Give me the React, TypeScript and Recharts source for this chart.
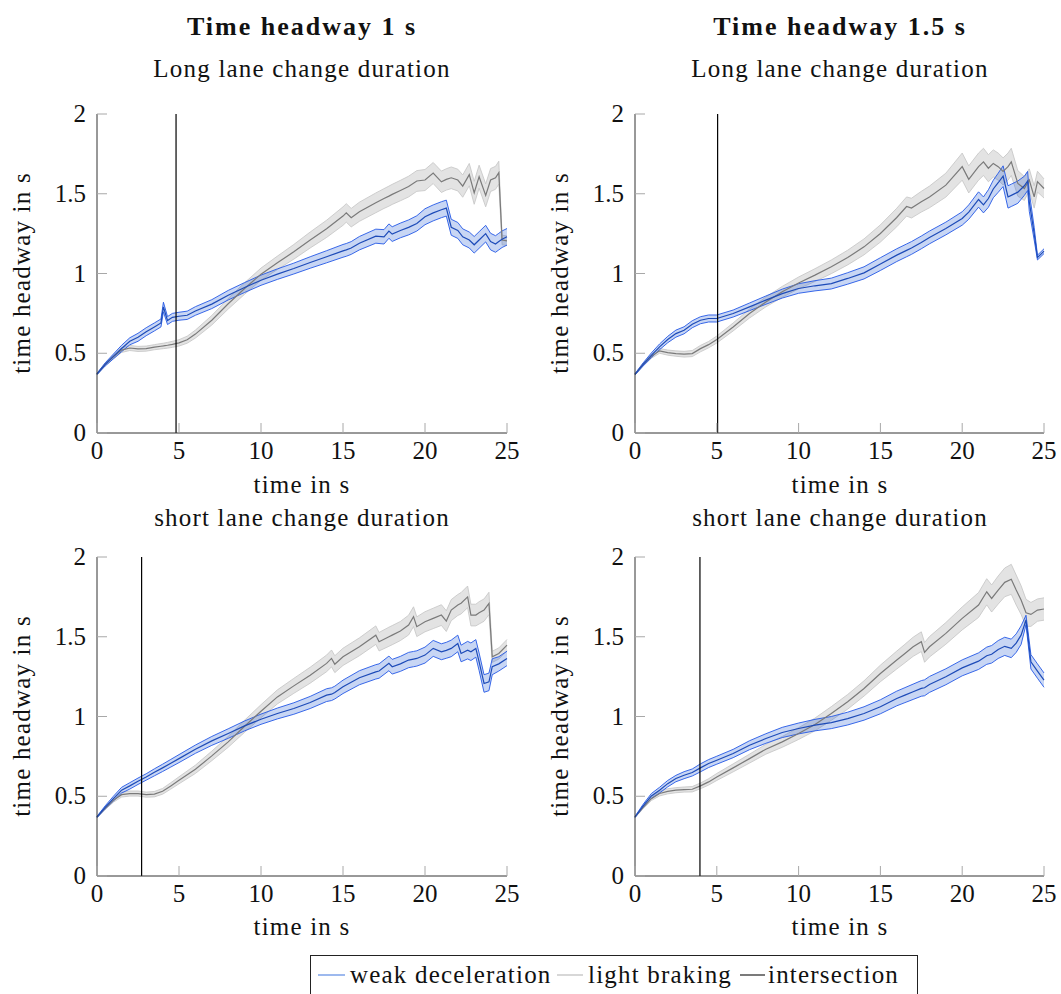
import React from 'react';
import { ComposedChart, Area, Line, XAxis, YAxis, ReferenceLine } from 'recharts';

// panel 1: time headway 1 s, long lane change
const time1 = [0, 0.5, 1, 1.5, 2, 2.5, 3, 3.5, 3.9, 4.05, 4.3, 4.6, 5, 5.5, 6, 7, 8, 9, 10, 11, 12, 13, 14, 15, 15.2, 15.5, 16, 17, 17.5, 17.8, 18, 18.5, 19, 19.5, 20, 20.5, 21, 21.3, 21.6, 22, 22.3, 22.7, 23, 23.3, 23.7, 24, 24.3, 24.5, 24.7, 25];
const blue1 = [0.37, 0.43, 0.48, 0.53, 0.575, 0.6, 0.635, 0.665, 0.69, 0.79, 0.705, 0.725, 0.732, 0.738, 0.765, 0.808, 0.864, 0.912, 0.958, 0.996, 1.031, 1.069, 1.105, 1.142, 1.148, 1.16, 1.19, 1.234, 1.23, 1.266, 1.247, 1.27, 1.289, 1.314, 1.356, 1.38, 1.4, 1.41, 1.29, 1.27, 1.23, 1.21, 1.18, 1.21, 1.25, 1.2, 1.185, 1.2, 1.215, 1.23];
const blueCi1 = [0.004, 0.01, 0.015, 0.02, 0.022, 0.025, 0.025, 0.025, 0.025, 0.03, 0.025, 0.025, 0.025, 0.026, 0.027, 0.028, 0.03, 0.031, 0.032, 0.033, 0.034, 0.036, 0.038, 0.04, 0.04, 0.04, 0.042, 0.044, 0.045, 0.045, 0.046, 0.046, 0.047, 0.048, 0.05, 0.05, 0.05, 0.05, 0.05, 0.05, 0.05, 0.05, 0.052, 0.052, 0.052, 0.052, 0.052, 0.052, 0.052, 0.052];
const gray1 = [0.37, 0.43, 0.478, 0.52, 0.533, 0.527, 0.529, 0.538, 0.544, 0.546, 0.55, 0.556, 0.565, 0.585, 0.62, 0.707, 0.81, 0.906, 0.996, 1.067, 1.136, 1.21, 1.28, 1.36, 1.38, 1.35, 1.387, 1.443, 1.47, 1.485, 1.496, 1.52, 1.545, 1.58, 1.586, 1.63, 1.575, 1.59, 1.6, 1.586, 1.548, 1.62, 1.506, 1.607, 1.49, 1.586, 1.6, 1.632, 1.21, 1.205];
const grayCi1 = [0.004, 0.008, 0.012, 0.015, 0.016, 0.016, 0.016, 0.016, 0.017, 0.017, 0.018, 0.019, 0.02, 0.022, 0.025, 0.03, 0.033, 0.036, 0.038, 0.042, 0.046, 0.05, 0.054, 0.058, 0.058, 0.058, 0.06, 0.062, 0.062, 0.063, 0.063, 0.064, 0.065, 0.065, 0.066, 0.066, 0.067, 0.067, 0.068, 0.068, 0.07, 0.07, 0.072, 0.072, 0.072, 0.072, 0.072, 0.072, 0.03, 0.03];

// panel 2: time headway 1.5 s, long lane change
const time2 = [0, 0.5, 1, 1.5, 2, 2.5, 3, 3.5, 4, 4.5, 5, 6, 7, 8, 9, 10, 11, 12, 13, 14, 15, 16, 16.6, 16.9, 17.5, 18, 19, 20, 20.4, 21, 21.3, 21.6, 21.9, 22.2, 22.5, 22.8, 23, 23.4, 23.8, 24, 24.1, 24.4, 24.6, 25];
const blue2 = [0.368, 0.43, 0.487, 0.54, 0.586, 0.623, 0.644, 0.682, 0.707, 0.718, 0.718, 0.749, 0.791, 0.833, 0.874, 0.906, 0.923, 0.937, 0.969, 1.004, 1.059, 1.115, 1.145, 1.16, 1.195, 1.226, 1.282, 1.345, 1.385, 1.464, 1.43, 1.47, 1.53, 1.569, 1.61, 1.48, 1.49, 1.51, 1.55, 1.58, 1.45, 1.25, 1.1, 1.14];
const blueCi2 = [0.004, 0.01, 0.015, 0.018, 0.02, 0.022, 0.022, 0.022, 0.022, 0.022, 0.022, 0.022, 0.024, 0.026, 0.028, 0.03, 0.032, 0.034, 0.036, 0.038, 0.04, 0.04, 0.04, 0.04, 0.04, 0.04, 0.04, 0.042, 0.045, 0.048, 0.05, 0.055, 0.055, 0.06, 0.065, 0.07, 0.07, 0.07, 0.06, 0.06, 0.06, 0.04, 0.015, 0.015];
const gray2 = [0.368, 0.43, 0.481, 0.515, 0.504, 0.498, 0.494, 0.498, 0.529, 0.554, 0.586, 0.665, 0.749, 0.822, 0.885, 0.941, 0.99, 1.042, 1.1, 1.167, 1.251, 1.351, 1.42, 1.41, 1.45, 1.48, 1.554, 1.67, 1.59, 1.67, 1.7, 1.66, 1.69, 1.67, 1.64, 1.67, 1.7, 1.565, 1.533, 1.57, 1.586, 1.48, 1.576, 1.533];
const grayCi2 = [0.004, 0.008, 0.012, 0.015, 0.016, 0.017, 0.018, 0.019, 0.02, 0.02, 0.022, 0.025, 0.028, 0.031, 0.034, 0.037, 0.04, 0.043, 0.046, 0.05, 0.054, 0.058, 0.06, 0.062, 0.065, 0.068, 0.075, 0.085, 0.085, 0.085, 0.085, 0.085, 0.085, 0.085, 0.085, 0.085, 0.085, 0.08, 0.075, 0.07, 0.07, 0.07, 0.065, 0.06];

// panel 3: time headway 1 s, short lane change
const time3 = [0, 0.5, 1, 1.5, 2, 2.5, 3, 3.5, 4, 4.5, 5, 6, 7, 8, 9, 10, 11, 12, 13, 14, 14.3, 14.5, 15, 16, 17, 17.2, 17.8, 18, 18.5, 19, 19.3, 19.5, 20, 20.5, 21, 21.3, 21.6, 22, 22.2, 22.6, 22.8, 23.1, 23.3, 23.6, 23.9, 24.1, 24.5, 25];
const blue3 = [0.37, 0.43, 0.485, 0.538, 0.565, 0.594, 0.621, 0.65, 0.678, 0.707, 0.736, 0.795, 0.847, 0.893, 0.941, 0.983, 1.019, 1.05, 1.088, 1.134, 1.14, 1.15, 1.186, 1.243, 1.28, 1.285, 1.333, 1.312, 1.33, 1.354, 1.36, 1.364, 1.385, 1.427, 1.406, 1.415, 1.427, 1.458, 1.395, 1.416, 1.406, 1.427, 1.343, 1.207, 1.217, 1.312, 1.33, 1.364];
const blueCi3 = [0.004, 0.01, 0.015, 0.018, 0.02, 0.02, 0.02, 0.022, 0.023, 0.024, 0.025, 0.026, 0.028, 0.03, 0.031, 0.032, 0.034, 0.036, 0.038, 0.04, 0.04, 0.04, 0.042, 0.044, 0.045, 0.045, 0.046, 0.046, 0.047, 0.048, 0.048, 0.048, 0.05, 0.05, 0.05, 0.05, 0.052, 0.052, 0.052, 0.055, 0.055, 0.055, 0.055, 0.055, 0.055, 0.05, 0.045, 0.045];
const gray3 = [0.37, 0.425, 0.475, 0.51, 0.517, 0.517, 0.51, 0.513, 0.531, 0.565, 0.6, 0.669, 0.753, 0.841, 0.939, 1.033, 1.123, 1.192, 1.259, 1.333, 1.364, 1.328, 1.374, 1.437, 1.51, 1.469, 1.5, 1.51, 1.536, 1.573, 1.626, 1.563, 1.594, 1.615, 1.636, 1.598, 1.667, 1.699, 1.71, 1.75, 1.636, 1.636, 1.65, 1.667, 1.709, 1.374, 1.395, 1.448];
const grayCi3 = [0.004, 0.008, 0.012, 0.015, 0.016, 0.016, 0.016, 0.017, 0.018, 0.02, 0.022, 0.026, 0.03, 0.034, 0.038, 0.041, 0.044, 0.047, 0.05, 0.052, 0.053, 0.053, 0.054, 0.056, 0.058, 0.058, 0.06, 0.06, 0.06, 0.062, 0.062, 0.062, 0.063, 0.064, 0.065, 0.065, 0.066, 0.066, 0.067, 0.068, 0.068, 0.068, 0.07, 0.07, 0.07, 0.035, 0.035, 0.035];

// panel 4: time headway 1.5 s, short lane change
const time4 = [0, 0.5, 1, 1.5, 2, 2.5, 3, 3.5, 4, 4.5, 5, 6, 7, 8, 9, 10, 11, 12, 13, 14, 15, 16, 16.5, 17, 17.5, 17.7, 18, 19, 20, 21, 21.5, 21.8, 22.2, 22.6, 23, 23.3, 23.6, 23.9, 24.2, 24.6, 25];
const blue4 = [0.37, 0.44, 0.502, 0.538, 0.579, 0.611, 0.632, 0.649, 0.678, 0.705, 0.726, 0.768, 0.82, 0.862, 0.9, 0.925, 0.946, 0.962, 0.987, 1.019, 1.061, 1.113, 1.134, 1.155, 1.176, 1.18, 1.201, 1.249, 1.305, 1.347, 1.381, 1.39, 1.42, 1.44, 1.427, 1.46, 1.51, 1.605, 1.343, 1.285, 1.228];
const blueCi4 = [0.004, 0.01, 0.015, 0.018, 0.02, 0.02, 0.022, 0.022, 0.025, 0.025, 0.025, 0.026, 0.028, 0.03, 0.032, 0.034, 0.036, 0.038, 0.04, 0.042, 0.044, 0.046, 0.047, 0.048, 0.049, 0.05, 0.05, 0.05, 0.05, 0.052, 0.054, 0.055, 0.056, 0.057, 0.058, 0.058, 0.058, 0.03, 0.045, 0.045, 0.045];
const gray4 = [0.37, 0.43, 0.485, 0.517, 0.531, 0.538, 0.542, 0.544, 0.565, 0.59, 0.621, 0.678, 0.736, 0.795, 0.841, 0.893, 0.95, 1.019, 1.092, 1.176, 1.27, 1.354, 1.395, 1.437, 1.469, 1.402, 1.437, 1.521, 1.615, 1.699, 1.782, 1.74, 1.793, 1.841, 1.86, 1.793, 1.73, 1.65, 1.64, 1.667, 1.674];
const grayCi4 = [0.004, 0.008, 0.012, 0.015, 0.016, 0.016, 0.016, 0.017, 0.018, 0.02, 0.022, 0.025, 0.028, 0.031, 0.034, 0.037, 0.04, 0.043, 0.046, 0.048, 0.052, 0.056, 0.058, 0.06, 0.062, 0.062, 0.064, 0.068, 0.072, 0.078, 0.082, 0.085, 0.088, 0.09, 0.094, 0.094, 0.09, 0.085, 0.075, 0.07, 0.07];

const xTicks = [0, 5, 10, 15, 20, 25];
const yTicks = [0, 0.5, 1, 1.5, 2];

const FONT = "'Liberation Serif', serif";
const BLUE_EDGE = '#2458e6';
const BLUE_LINE = '#1d4bb8';
const GRAY_EDGE = '#c4c4c4';
const GRAY_LINE = '#7a7a7a';

const buildRows = (time: number[], blue: number[], blueCi: number[], gray: number[], grayCi: number[]) =>
    time.map((t, i) => ({
        t,
        blue: blue[i],
        blueBand: [blue[i] - blueCi[i], blue[i] + blueCi[i]],
        gray: gray[i],
        grayBand: [gray[i] - grayCi[i], gray[i] + grayCi[i]],
    }));

const panels = [
    { rows: buildRows(time1, blue1, blueCi1, gray1, grayCi1), cross: 4.82, left: 20, top: 100 },
    { rows: buildRows(time2, blue2, blueCi2, gray2, grayCi2), cross: 5.05, left: 558, top: 100 },
    { rows: buildRows(time3, blue3, blueCi3, gray3, grayCi3), cross: 2.72, left: 20, top: 543 },
    { rows: buildRows(time4, blue4, blueCi4, gray4, grayCi4), cross: 3.97, left: 558, top: 543 },
];

const XTick = (props: any) => {
    const { x, y, payload } = props;
    return (
        <g>
            <line x1={x} x2={x} y1={y} y2={y - 10} stroke="#a8a8a8" strokeWidth={1} />
            <text x={x} y={y + 26} textAnchor="middle" fontFamily={FONT} fontSize={25} fill="#111">
                {String(payload.value)}
            </text>
        </g>
    );
};

const YTick = (props: any) => {
    const { x, y, payload } = props;
    return (
        <g>
            <line x1={x} x2={x + 10} y1={y} y2={y} stroke="#a8a8a8" strokeWidth={1} />
            <text x={x - 11} y={y + 8} textAnchor="end" fontFamily={FONT} fontSize={25} fill="#111">
                {String(payload.value)}
            </text>
        </g>
    );
};

const Panel = ({ rows, cross, left, top, width }: any) => (
    <div style={{ position: 'absolute', left, top }}>
        <ComposedChart width={width} height={375} data={rows} margin={{ top: 14, right: 15, bottom: 2, left: 17 }}>
            <XAxis
                type="number"
                dataKey="t"
                domain={[0, 25]}
                ticks={xTicks}
                interval={0}
                height={40}
                tickSize={0}
                tickMargin={0}
                tickLine={false}
                axisLine={{ stroke: '#333', strokeWidth: 1 }}
                tick={<XTick />}
            />
            <YAxis
                type="number"
                domain={[0, 2]}
                ticks={yTicks}
                interval={0}
                width={60}
                tickSize={0}
                tickMargin={0}
                tickLine={false}
                axisLine={{ stroke: '#333', strokeWidth: 1 }}
                tick={<YTick />}
            />
            <Area type="linear" dataKey="grayBand" stroke={GRAY_EDGE} strokeWidth={0.8} fill="#c2c2c2" fillOpacity={0.45} isAnimationActive={false} />
            <Line type="linear" dataKey="gray" stroke={GRAY_LINE} strokeWidth={1.2} dot={false} isAnimationActive={false} />
            <Area type="linear" dataKey="blueBand" stroke={BLUE_EDGE} strokeWidth={0.9} fill="#2a62d6" fillOpacity={0.26} isAnimationActive={false} />
            <Line type="linear" dataKey="blue" stroke={BLUE_LINE} strokeWidth={1.2} dot={false} isAnimationActive={false} />
            <ReferenceLine x={cross} stroke="#000" strokeWidth={1.2} />
        </ComposedChart>
    </div>
);

const txt = { fontFamily: FONT, fill: '#111' };
const reg = { fontSize: 25, letterSpacing: 1.2, ...txt };

export default function App() {
    return (
        <div style={{ position: 'absolute', left: 0, top: 0, width: 1061, height: 994, background: '#fff' }}>
            <svg width={1061} height={994} style={{ position: 'absolute', left: 0, top: 0 }}>
                <text x={302} y={35} textAnchor="middle" fontSize={26} fontWeight="bold" letterSpacing={2} {...txt}>Time headway 1 s</text>
                <text x={840} y={35} textAnchor="middle" fontSize={26} fontWeight="bold" letterSpacing={2} {...txt}>Time headway 1.5 s</text>
                <text x={302} y={77} textAnchor="middle" {...reg}>Long lane change duration</text>
                <text x={840} y={77} textAnchor="middle" {...reg}>Long lane change duration</text>
                <text x={302} y={526} textAnchor="middle" {...reg}>short lane change duration</text>
                <text x={840} y={526} textAnchor="middle" {...reg}>short lane change duration</text>
                <text x={302} y={493} textAnchor="middle" {...reg}>time in s</text>
                <text x={840} y={493} textAnchor="middle" {...reg}>time in s</text>
                <text x={302} y={935} textAnchor="middle" {...reg}>time in s</text>
                <text x={840} y={935} textAnchor="middle" {...reg}>time in s</text>
                <text transform="translate(30,273) rotate(-90)" textAnchor="middle" {...reg}>time headway in s</text>
                <text transform="translate(568,273) rotate(-90)" textAnchor="middle" {...reg}>time headway in s</text>
                <text transform="translate(30,716) rotate(-90)" textAnchor="middle" {...reg}>time headway in s</text>
                <text transform="translate(568,716) rotate(-90)" textAnchor="middle" {...reg}>time headway in s</text>
                <rect x={310.5} y={955.5} width={607} height={50} fill="none" stroke="#222" strokeWidth={1} />
                <line x1={318} x2={345} y1={975} y2={975} stroke="#5b8ae2" strokeWidth={1.2} />
                <text x={350} y={983} {...reg}>weak deceleration</text>
                <line x1={557} x2={583} y1={975} y2={975} stroke="#bdbdbd" strokeWidth={1.2} />
                <text x={588} y={983} {...reg}>light braking</text>
                <line x1={740} x2={765} y1={975} y2={975} stroke="#222" strokeWidth={1.2} />
                <text x={768} y={983} {...reg}>intersection</text>
            </svg>
            {panels.map((p, i) => (
                <Panel key={i} rows={p.rows} cross={p.cross} left={p.left} top={p.top} width={i % 2 === 0 ? 502 : 501} />
            ))}
        </div>
    );
}
